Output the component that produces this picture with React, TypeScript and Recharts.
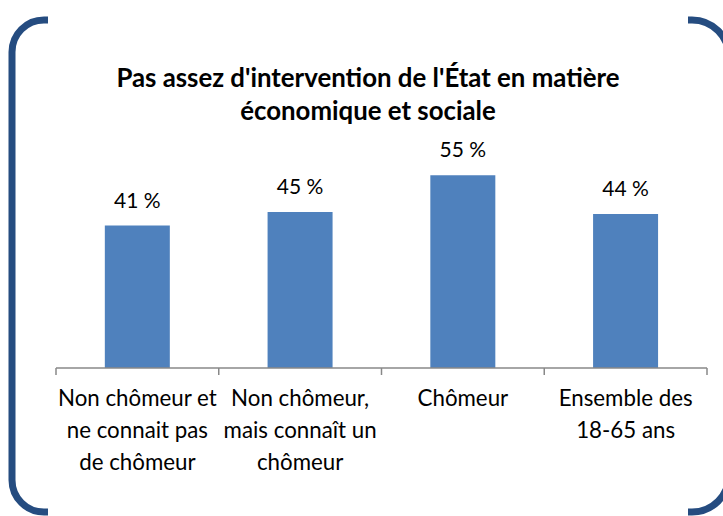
import React from "react";
import { BarChart, Bar, XAxis, YAxis, LabelList } from "recharts";

const categories = [
  "Non chômeur et\nne connait pas\nde chômeur",
  "Non chômeur,\nmais connaît un\nchômeur",
  "Chômeur",
  "Ensemble des\n18-65 ans",
];
const values = [40.7, 44.6, 55.1, 44.0];
const titleLines = [
  "Pas assez d'intervention de l'État en matière",
  "économique et sociale",
];

const data = categories.map((c, i) => ({ name: c, value: values[i] }));

const W = 723;
const H = 516;
const M = { top: 158, right: 16, left: 56, bottom: 28 };
const XH = 120;
const FONT = "Lato, 'Open Sans', sans-serif";
const half = (W - M.left - M.right) / categories.length / 2;

const Tick = (props: any) => {
  const { x, y, payload, index } = props;
  const lines = String(payload.value).split("\n");
  return (
    <g>
      <line x1={x - half} x2={x - half} y1={y - 8} y2={y - 1} stroke="#888888" strokeWidth={1.5} />
      {index === categories.length - 1 && (
        <line x1={x + half} x2={x + half} y1={y - 8} y2={y - 1} stroke="#888888" strokeWidth={1.5} />
      )}
      <text textAnchor="middle" fontFamily={FONT} fontSize={22.3} fill="#000">
        {lines.map((l, i) => (
          <tspan key={i} x={x} y={y + 30 + i * 32}>
            {l}
          </tspan>
        ))}
      </text>
    </g>
  );
};

export default function App() {
  return (
    <div style={{ position: "absolute", left: 0, top: 0, width: W, height: H, background: "#fff", overflow: "hidden" }}>
      <BarChart width={W} height={H} data={data} margin={M} barCategoryGap="30%">
        <XAxis
          dataKey="name"
          height={XH}
          interval={0}
          tickLine={false}
          axisLine={{ stroke: "#888888", strokeWidth: 1.5 }}
          tick={<Tick />}
        />
        <YAxis hide domain={[0, 60]} />
        <Bar dataKey="value" fill="#4F81BD" isAnimationActive={false}>
          <LabelList
            dataKey="value"
            position="top"
            offset={18}
            formatter={(v: any) => `${Math.round(Number(v))} %`}
            style={{ fontFamily: FONT, fontSize: 21, fill: "#000" }}
          />
        </Bar>
      </BarChart>
      <svg width={W} height={H} style={{ position: "absolute", left: 0, top: 0, pointerEvents: "none" }}>
        <g fill="none" stroke="#254C80" strokeWidth={7}>
          <path d="M 48 20 H 44 A 32 32 0 0 0 12 52 V 480 A 32 32 0 0 0 44 512 H 48" />
          <path d="M 688 20 H 692 A 37 37 0 0 1 729 57" />
          <path d="M 729 475 A 37 37 0 0 1 692 512 H 688" />
        </g>
        <text textAnchor="middle" fontFamily={FONT} fontWeight="bold" fontSize={25.8} fill="#000">
          {titleLines.map((l, i) => (
            <tspan key={i} x={368} y={87 + i * 33}>
              {l}
            </tspan>
          ))}
        </text>
      </svg>
    </div>
  );
}
